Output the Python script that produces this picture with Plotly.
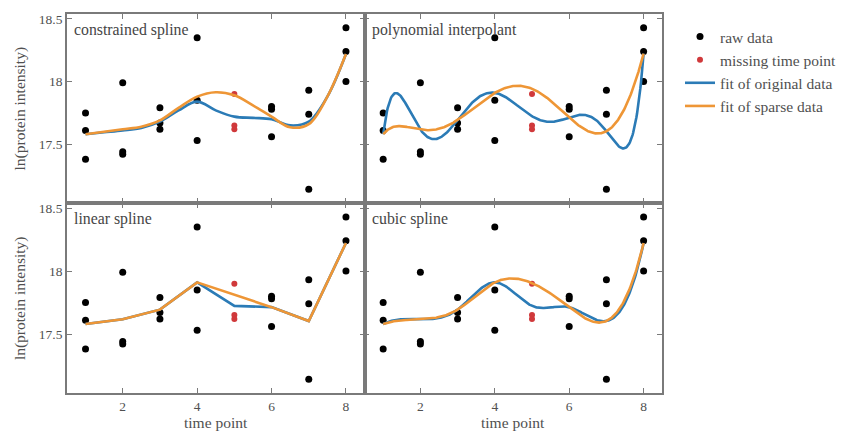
import numpy as np
import plotly.graph_objects as go

# ---------------- data ----------------
time_points = [1, 2, 3, 4, 5, 6, 7, 8]

# replicate measurements of ln(protein intensity) per time point
raw_t = [1, 1, 1, 2, 2, 2, 3, 3, 3, 4, 4, 4, 6, 6, 6, 7, 7, 7, 8, 8, 8]
raw_y = [17.75, 17.61, 17.38,
         17.99, 17.44, 17.42,
         17.79, 17.67, 17.62,
         18.35, 17.85, 17.53,
         17.80, 17.78, 17.56,
         17.93, 17.74, 17.14,
         18.43, 18.24, 18.00]

# replicates at the time point removed for the sparse fit
missing_t = [5, 5, 5]
missing_y = [17.90, 17.65, 17.62]

# constrained spline curves
cs_t = [1, 1.5, 2, 2.5, 3, 3.5, 4, 4.5, 5, 5.5, 6, 6.5, 7, 7.5, 8]
cs_orig = [17.58, 17.595, 17.61, 17.63, 17.68, 17.77, 17.84, 17.77, 17.72,
           17.71, 17.70, 17.65, 17.68, 17.88, 18.22]
cs_sparse = [17.58, 17.60, 17.62, 17.64, 17.69, 17.79, 17.88, 17.915, 17.89,
             17.81, 17.72, 17.635, 17.66, 17.88, 18.22]

panel_titles = ["constrained spline", "polynomial interpolant",
                "linear spline", "cubic spline"]

x_ticks = [2, 4, 6, 8]
y_ticks = [17.5, 18, 18.5]
y_tick_text = ["17.5", "18", "18.5"]

# ---------------- styling ----------------
BLUE = "#2b7bb6"
ORANGE = "#ee9636"
RED = "#d0393b"
AXIS = "#7a7a7a"
TEXT = "#505050"
FONT = "Liberation Serif"

W, H = 842, 432


# ---------------- fitting helpers ----------------
def group_means(t, y):
    t = np.asarray(t, float)
    y = np.asarray(y, float)
    ut = np.unique(t)
    return ut, np.array([y[t == u].mean() for u in ut])


def not_a_knot_spline(xk, yk, xs):
    xk = np.asarray(xk, float)
    yk = np.asarray(yk, float)
    n = len(xk)
    m = n - 1
    h = np.diff(xk)
    A = np.zeros((4 * m, 4 * m))
    b = np.zeros(4 * m)
    r = 0
    for i in range(m):
        c = 4 * i
        A[r, c] = 1
        b[r] = yk[i]
        r += 1
        A[r, c:c + 4] = [1, h[i], h[i] ** 2, h[i] ** 3]
        b[r] = yk[i + 1]
        r += 1
    for j in range(1, m):
        p, q = 4 * (j - 1), 4 * j
        A[r, p:p + 4] = [0, 1, 2 * h[j - 1], 3 * h[j - 1] ** 2]
        A[r, q + 1] = -1
        r += 1
        A[r, p:p + 4] = [0, 0, 2, 6 * h[j - 1]]
        A[r, q + 2] = -2
        r += 1
    A[r, 3] = 1
    A[r, 7] = -1
    r += 1
    A[r, 4 * (m - 2) + 3] = 1
    A[r, 4 * (m - 1) + 3] = -1
    coef = np.linalg.solve(A, b).reshape(m, 4)
    idx = np.clip(np.searchsorted(xk, xs, side="right") - 1, 0, m - 1)
    s = xs - xk[idx]
    cf = coef[idx]
    return cf[:, 0] + cf[:, 1] * s + cf[:, 2] * s ** 2 + cf[:, 3] * s ** 3


def poly_interp(xk, yk, xs):
    p = np.polynomial.Polynomial.fit(xk, yk, deg=len(xk) - 1)
    return p(xs)


full_t, full_m = group_means(raw_t + missing_t, raw_y + missing_y)
sparse_t, sparse_m = group_means(raw_t, raw_y)
grid = np.linspace(1, 8, 400)

curves = {
    0: ((cs_t, cs_orig, "spline"), (cs_t, cs_sparse, "spline")),
    1: ((grid, poly_interp(full_t, full_m, grid), "linear"),
        (grid, poly_interp(sparse_t, sparse_m, grid), "linear")),
    2: ((full_t, full_m, "linear"), (sparse_t, sparse_m, "linear")),
    3: ((grid, not_a_knot_spline(full_t, full_m, grid), "linear"),
        (grid, not_a_knot_spline(sparse_t, sparse_m, grid), "linear")),
}

# ---------------- layout geometry (pixels) ----------------
x_dom = [(67, 365), (365, 663)]
y_dom = [(12, 202), (202, 393)]

fig = go.Figure()
annotations = []

for k in range(4):
    row, col = divmod(k, 2)
    ax = "" if k == 0 else str(k + 1)
    xref, yref = "x" + ax, "y" + ax
    first = k == 0

    fig.add_trace(go.Scatter(
        x=raw_t, y=raw_y, mode="markers", xaxis=xref, yaxis=yref,
        marker=dict(color="black", size=7), name="raw data",
        legendgroup="raw", showlegend=first))
    fig.add_trace(go.Scatter(
        x=missing_t, y=missing_y, mode="markers", xaxis=xref, yaxis=yref,
        marker=dict(color=RED, size=6), name="missing time point",
        legendgroup="missing", showlegend=first))
    (xo, yo, so), (xs_, ys_, ss) = curves[k]
    fig.add_trace(go.Scatter(
        x=list(xo), y=list(yo), mode="lines", xaxis=xref, yaxis=yref,
        line=dict(color=BLUE, width=2.6, shape=so), name="fit of original data",
        legendgroup="orig", showlegend=first))
    fig.add_trace(go.Scatter(
        x=list(xs_), y=list(ys_), mode="lines", xaxis=xref, yaxis=yref,
        line=dict(color=ORANGE, width=2.6, shape=ss), name="fit of sparse data",
        legendgroup="sparse", showlegend=first))

    x0, x1 = x_dom[col]
    y0, y1 = y_dom[row]
    common = dict(showline=True, linecolor=AXIS, linewidth=1.5, mirror="ticks",
                  ticks="inside", ticklen=5, tickwidth=1.2, tickcolor=AXIS,
                  showgrid=False, zeroline=False,
                  tickfont=dict(family=FONT, size=13.5, color=TEXT))
    fig.layout["xaxis" + ax] = dict(
        common, domain=[x0 / W, x1 / W], range=[0.5, 8.5], anchor=yref,
        tickvals=x_ticks, showticklabels=(row == 1))
    fig.layout["yaxis" + ax] = dict(
        common, domain=[1 - y1 / H, 1 - y0 / H], range=[17.03, 18.54],
        anchor=xref, tickvals=y_ticks, ticktext=y_tick_text,
        showticklabels=(col == 0))

    annotations.append(dict(
        text=panel_titles[k], xref="paper", yref="paper",
        x=(x0 + 5) / W, y=1 - (y0 + 16) / H, xanchor="left", yanchor="middle",
        showarrow=False, font=dict(family=FONT, size=15.8, color="#454545")))

    if col == 0:
        annotations.append(dict(
            text="ln(protein intensity)", xref="paper", yref="paper",
            x=20 / W, y=1 - ((y0 + y1) / 2) / H, textangle=-90,
            xanchor="center", yanchor="middle", showarrow=False,
            font=dict(family=FONT, size=15.5, color=TEXT)))
    if row == 1:
        annotations.append(dict(
            text="time point", xref="paper", yref="paper",
            x=((x0 + x1) / 2) / W, y=1 - 422 / H,
            xanchor="center", yanchor="middle", showarrow=False,
            font=dict(family=FONT, size=15.5, color=TEXT)))

fig.update_layout(
    width=W, height=H,
    margin=dict(l=0, r=0, t=0, b=0),
    paper_bgcolor="white", plot_bgcolor="white",
    annotations=annotations,
    legend=dict(x=681 / W, y=1 - 18 / H, xanchor="left", yanchor="top",
                traceorder="grouped", tracegroupgap=0,
                bgcolor="rgba(0,0,0,0)",
                font=dict(family=FONT, size=15.5, color=TEXT)),
)

fig.write_html("out.html")
